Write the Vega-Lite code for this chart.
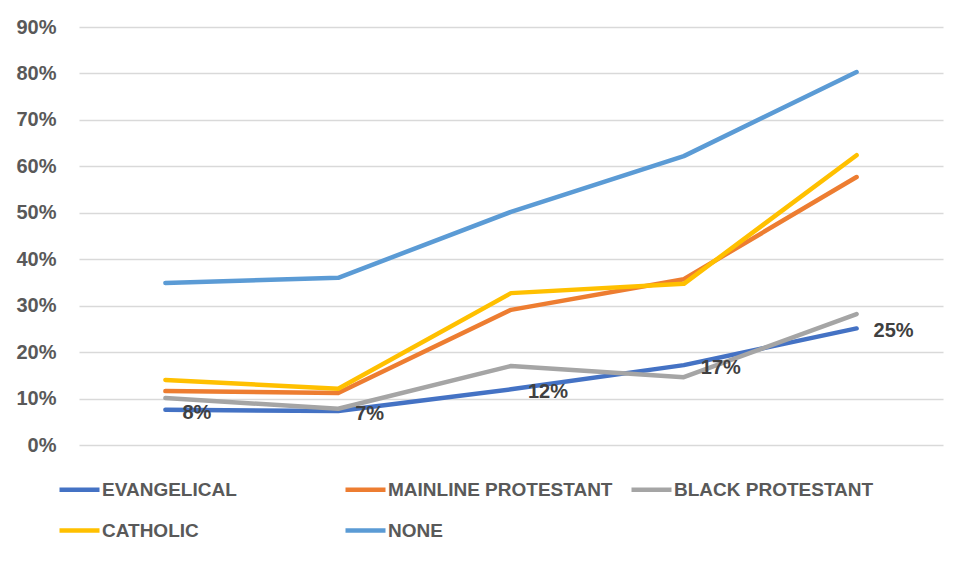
{
  "$schema": "https://vega.github.io/schema/vega-lite/v6.json",
  "width": 864,
  "height": 418,
  "autosize": {"type": "none"},
  "padding": {"left": 79, "top": 27, "right": 25, "bottom": 117},
  "background": "white",
  "config": {"view": {"stroke": null}, "font": "Liberation Sans"},
  "data": {
    "values": [
      {"period": 1, "group": "EVANGELICAL", "value": 7.6, "label": "8%"},
      {"period": 2, "group": "EVANGELICAL", "value": 7.3, "label": "7%"},
      {"period": 3, "group": "EVANGELICAL", "value": 12.0, "label": "12%"},
      {"period": 4, "group": "EVANGELICAL", "value": 17.2, "label": "17%"},
      {"period": 5, "group": "EVANGELICAL", "value": 25.1, "label": "25%"},
      {"period": 1, "group": "MAINLINE PROTESTANT", "value": 11.6},
      {"period": 2, "group": "MAINLINE PROTESTANT", "value": 11.2},
      {"period": 3, "group": "MAINLINE PROTESTANT", "value": 29.1},
      {"period": 4, "group": "MAINLINE PROTESTANT", "value": 35.7},
      {"period": 5, "group": "MAINLINE PROTESTANT", "value": 57.7},
      {"period": 1, "group": "BLACK PROTESTANT", "value": 10.1},
      {"period": 2, "group": "BLACK PROTESTANT", "value": 7.8},
      {"period": 3, "group": "BLACK PROTESTANT", "value": 17.0},
      {"period": 4, "group": "BLACK PROTESTANT", "value": 14.6},
      {"period": 5, "group": "BLACK PROTESTANT", "value": 28.2},
      {"period": 1, "group": "CATHOLIC", "value": 14.0},
      {"period": 2, "group": "CATHOLIC", "value": 12.1},
      {"period": 3, "group": "CATHOLIC", "value": 32.7},
      {"period": 4, "group": "CATHOLIC", "value": 34.7},
      {"period": 5, "group": "CATHOLIC", "value": 62.4},
      {"period": 1, "group": "NONE", "value": 34.9},
      {"period": 2, "group": "NONE", "value": 36.0},
      {"period": 3, "group": "NONE", "value": 50.2},
      {"period": 4, "group": "NONE", "value": 62.2},
      {"period": 5, "group": "NONE", "value": 80.3}
    ]
  },
  "layer": [
    {
      "mark": {"type": "line", "strokeWidth": 4.5, "strokeCap": "round", "strokeJoin": "round"},
      "encoding": {
        "x": {"field": "period", "type": "ordinal", "scale": {"type": "point", "padding": 0.5}, "axis": null},
        "y": {
          "field": "value", "type": "quantitative",
          "scale": {"domain": [0, 90], "nice": false},
          "axis": {
            "values": [0, 10, 20, 30, 40, 50, 60, 70, 80, 90],
            "labelExpr": "datum.value + '%'",
            "grid": true, "gridColor": "#D9D9D9", "gridWidth": 1.3,
            "domain": false, "ticks": false,
            "labelFont": "Liberation Sans", "labelFontWeight": "bold", "labelFontSize": 20,
            "labelColor": "#595959", "labelPadding": 23, "title": null
          }
        },
        "color": {
          "field": "group", "type": "nominal",
          "scale": {
            "domain": ["EVANGELICAL", "MAINLINE PROTESTANT", "BLACK PROTESTANT", "CATHOLIC", "NONE"],
            "range": ["#4472C4", "#ED7D31", "#A5A5A5", "#FFC000", "#5B9BD5"]
          },
          "legend": {
            "orient": "none", "legendX": -22, "legendY": 440,
            "direction": "horizontal", "columns": 3, "gridAlign": "all",
            "title": null, "padding": 0,
            "symbolType": "stroke", "symbolStrokeWidth": 4.5, "symbolSize": 1600,
            "labelFont": "Liberation Sans", "labelFontWeight": "bold", "labelFontSize": 19,
            "labelColor": "#595959", "labelOffset": 0, "labelLimit": 400,
            "rowPadding": 8, "columnPadding": 9
          }
        },
        "order": {"field": "period"}
      }
    },
    {
      "transform": [{"filter": "datum.label != null"}],
      "mark": {"type": "text", "align": "left", "baseline": "middle", "dx": 17, "dy": 3, "fontSize": 20, "fontWeight": "bold", "color": "#404040", "font": "Liberation Sans"},
      "encoding": {
        "x": {"field": "period", "type": "ordinal", "scale": {"type": "point", "padding": 0.5}, "axis": null},
        "y": {"field": "value", "type": "quantitative"},
        "text": {"field": "label"}
      }
    }
  ]
}
